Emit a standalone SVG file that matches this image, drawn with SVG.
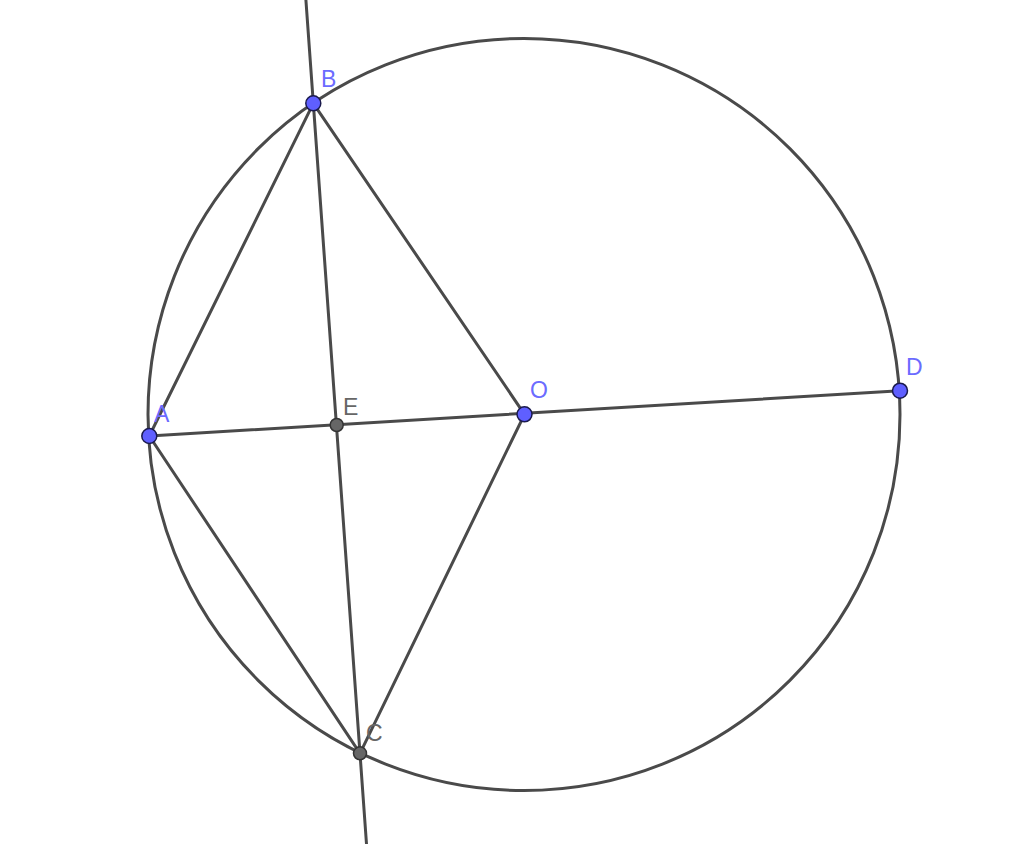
<svg xmlns="http://www.w3.org/2000/svg" width="1024" height="844" viewBox="0 0 1024 844">
<style>
.ln{stroke:#4a4a4a;stroke-width:3;fill:none;stroke-linecap:round}
.pb{fill:#5f5fff;stroke:#1a1a4d;stroke-width:1.5}
.pg{fill:#666;stroke:#333;stroke-width:1.5}
.lb{font-family:"Liberation Sans",Arial,sans-serif;font-size:23px;fill:#6b6bff}
.lg{font-family:"Liberation Sans",Arial,sans-serif;font-size:23px;fill:#666}
</style>
<rect width="1024" height="844" fill="#fff"/>
<g id="connectors">
<circle class="ln" cx="524" cy="414.5" r="376"/>
<line class="ln" x1="305.9" y1="0" x2="366.5" y2="844"/>
<line class="ln" x1="149.3" y1="436" x2="900" y2="390.7"/>
<line class="ln" x1="149.3" y1="436" x2="313.3" y2="103.3"/>
<line class="ln" x1="313.3" y1="103.3" x2="524.5" y2="414.3"/>
<line class="ln" x1="524.5" y1="414.3" x2="360" y2="753.3"/>
<line class="ln" x1="149.3" y1="436" x2="360" y2="753.3"/>
</g>
<g id="E"><circle class="pg" cx="336.7" cy="425" r="6.5"/><text class="lg" x="343" y="415">E</text></g>
<g id="C"><circle class="pg" cx="360" cy="753.3" r="6.5"/><text class="lg" x="366" y="741">C</text></g>
<g id="A"><circle class="pb" cx="149.3" cy="436" r="7.5"/><text class="lb" x="154" y="422">A</text></g>
<g id="B"><circle class="pb" cx="313.3" cy="103.3" r="7.5"/><text class="lb" x="321" y="87">B</text></g>
<g id="O"><circle class="pb" cx="524.5" cy="414.3" r="7.5"/><text class="lb" x="530" y="398">O</text></g>
<g id="D"><circle class="pb" cx="900" cy="390.7" r="7.5"/><text class="lb" x="906" y="375">D</text></g>
</svg>
